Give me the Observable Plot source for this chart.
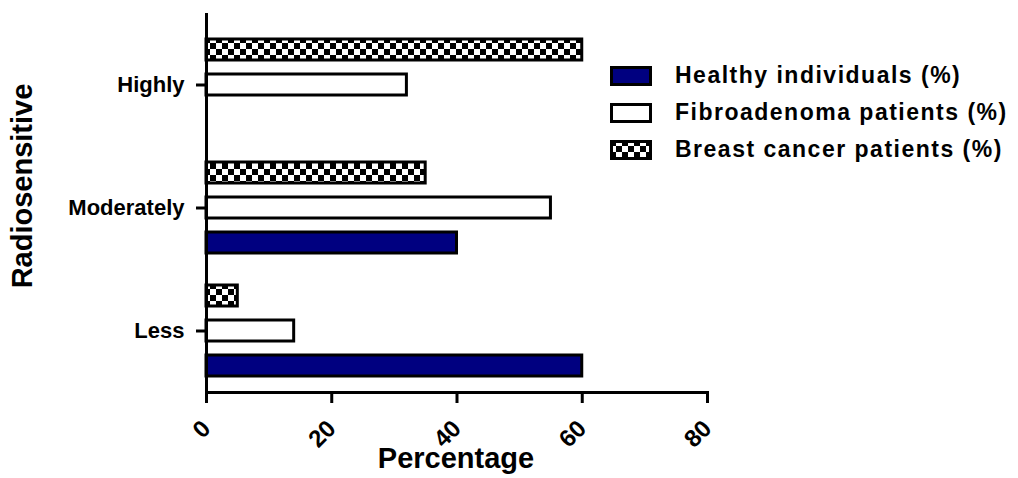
<!DOCTYPE html>
<html>
<head>
<meta charset="utf-8">
<script src="https://cdn.jsdelivr.net/npm/d3@7"></script>
<script src="https://cdn.jsdelivr.net/npm/@observablehq/plot@0.6"></script>
<style>
  html, body { margin: 0; padding: 0; background: white; }
  #wrap { position: relative; width: 1018px; height: 478px; font-family: 'Liberation Sans', Arial, sans-serif; font-weight: bold; color: black; }
  #legend { position: absolute; left: 610px; top: 57px; font-size: 23px; letter-spacing: 1.5px; }
  #legend .row { display: flex; align-items: center; height: 37px; }
  #legend svg { margin-right: 23px; }
  .title { position: absolute; white-space: nowrap; line-height: 1; transform: translate(-50%, -50%); }
  #xtitle { left: 456px; top: 458px; font-size: 29px; }
  #ytitle { left: 22px; top: 186px; font-size: 29px; transform: translate(-50%, -50%) rotate(-90deg); }
</style>
</head>
<body>
<div id="wrap">
  <div id="legend"></div>
  <div class="title" id="xtitle">Percentage</div>
  <div class="title" id="ytitle">Radiosensitive</div>
</div>
<script>
const categories = ["Highly", "Moderately", "Less"];
const seriesNames = ["Healthy individuals (%)", "Fibroadenoma patients (%)", "Breast cancer patients (%)"];
const healthy = [0, 40, 60];
const fibroadenoma = [32, 55, 14];
const breastCancer = [60, 35, 5];
const xTicks = [0, 20, 40, 60, 80];

const seriesFill = ["#000080", "white", "url(#checker)"];
const seriesOffset = [35, 0, -35];
const seriesValues = [healthy, fibroadenoma, breastCancer];

const rows = seriesNames.map((s, i) => categories.map((c, j) => ({category: c, series: s, value: seriesValues[i][j]})));

const barMarks = rows.map((data, i) => Plot.barX(data, {
  y: "category", x: "value", fill: seriesFill[i], stroke: "black", strokeWidth: 3,
  insetTop: 51, insetBottom: 51, dy: seriesOffset[i]
}));

const chart = Plot.plot({
  width: 1018, height: 478,
  marginTop: 14, marginBottom: 86, marginLeft: 206, marginRight: 311,
  style: {fontFamily: "'Liberation Sans', Arial, sans-serif", fontWeight: "bold", color: "black", background: "white"},
  x: {domain: [0, 80], ticks: xTicks, label: null},
  y: {domain: categories, paddingInner: 0, paddingOuter: 0.0242, align: 1, label: null},
  marks: [
    ...barMarks,
    Plot.frame({anchor: "left", stroke: "black", strokeWidth: 3}),
    Plot.frame({anchor: "bottom", stroke: "black", strokeWidth: 3}),
    Plot.axisX({ticks: xTicks, tickSize: 11, tickRotate: -45, fontSize: 24, strokeWidth: 3, tickPadding: 21, label: null}),
    Plot.axisY({tickSize: 10, fontSize: 22, strokeWidth: 3, tickPadding: 12, label: null, style: {letterSpacing: "1.8px"}})
  ]
});

d3.select(chart).insert("defs", ":first-child").html(
  '<pattern id="checker" width="12" height="12" patternUnits="userSpaceOnUse">' +
  '<rect width="12" height="12" fill="white"/>' +
  '<rect width="6" height="6" fill="black"/>' +
  '<rect x="6" y="6" width="6" height="6" fill="black"/></pattern>'
);

document.getElementById("wrap").prepend(chart);

const legend = d3.select("#legend");
seriesNames.forEach((s, i) => {
  const row = legend.append("div").attr("class", "row");
  const sw = row.append("svg").attr("width", 42).attr("height", 20);
  sw.append("rect").attr("x", 1.5).attr("y", 1.5).attr("width", 39).attr("height", 17)
    .attr("fill", seriesFill[i]).attr("stroke", "black").attr("stroke-width", 3);
  row.append("span").text(s);
});
</script>
</body>
</html>
